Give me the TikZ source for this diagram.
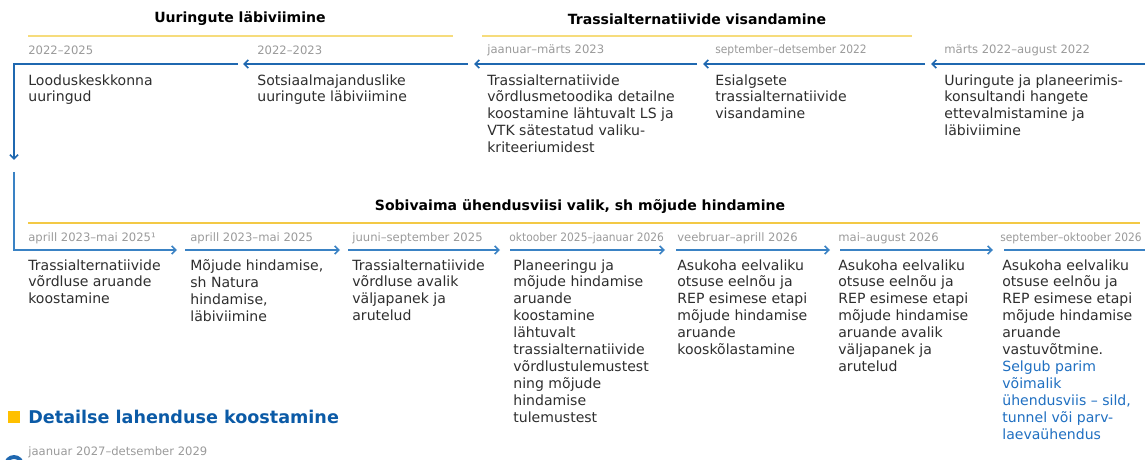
\documentclass[tikz,border=0pt]{standalone}
\usepackage{fontspec}
\setmainfont{DejaVu Sans}
\newfontfamily\narrowfont[FakeStretch=0.92]{DejaVu Sans}
\usetikzlibrary{arrows.meta}

\definecolor{lineblue}{HTML}{1F68B0}
\definecolor{lightlineblue}{HTML}{3A82C4}
\definecolor{headblue}{HTML}{0B5AA6}
\definecolor{noteblue}{HTML}{1F6FC1}
\definecolor{bandyellow}{HTML}{F6DC7C}
\definecolor{deepyellow}{HTML}{F3C945}
\definecolor{markyellow}{HTML}{FFC000}
\definecolor{dategray}{HTML}{9A9A9A}
\definecolor{bodygray}{HTML}{2E2E2E}

\tikzset{
  flow/.style={line width=0.85pt, lineblue,
    -{Straight Barb[length=2.4pt, width=4.6pt, line width=0.9pt]}},
  lightflow/.style={flow, lightlineblue},
  plainflow/.style={line width=0.85pt, lightlineblue},
  band/.style={line width=1.1pt, bandyellow},
  phase/.style={font=\fontsize{8}{9.6}\selectfont\bfseries, text=black},
  when/.style={anchor=west, inner sep=0pt,
    font=\fontsize{6.6}{8}\selectfont, text=dategray},
  whennarrow/.style={when, font=\fontsize{6.6}{8}\selectfont\narrowfont},
  task/.style={anchor=north west, inner sep=0pt, align=left,
    font=\fontsize{8}{9.64}\selectfont, text=bodygray},
}

\begin{document}
\begin{tikzpicture}
\useasboundingbox (0,0) rectangle (22.9,9.18);

% ── Ülemine rida: faaside pealkirjad ──────────────────────────
\node[phase] (phUur) at (4.80, 8.80) {Uuringute läbiviimine};
\node[phase] (phVis) at (13.94, 8.80) {Trassialternatiivide visandamine};
\draw[band] (0.56, 8.46) -- (9.06, 8.46);
\draw[band] (9.64, 8.46) -- (18.24, 8.46);

% ── Ülemine rida: ajad ────────────────────────────────────────
\node[when] (d11) at (0.56, 8.18) {2022–2025};
\node[when] (d12) at (5.14, 8.18) {2022–2023};
\node[when] (d13) at (9.74, 8.18) {jaanuar–märts 2023};
\node[whennarrow] (d14) at (14.30, 8.18) {september–detsember 2022};
\node[when] (d15) at (18.88, 8.18) {märts 2022–august 2022};

% ── Ülemine rida: tegevused ───────────────────────────────────
\node[task] (t11) at (0.56, 7.70) {Looduskeskkonna\\uuringud};
\node[task] (t12) at (5.14, 7.70) {Sotsiaalmajanduslike\\uuringute läbiviimine};
\node[task] (t13) at (9.74, 7.70)
    {Trassialternatiivide\\võrdlusmetoodika detailne\\koostamine lähtuvalt LS ja\\VTK sätestatud valiku-\\kriteeriumidest};
\node[task] (t14) at (14.30, 7.70)
    {Esialgsete\\trassialternatiivide\\visandamine};
\node[task] (t15) at (18.88, 7.70)
    {Uuringute ja planeerimis-\\konsultandi hangete\\ettevalmistamine ja\\läbiviimine};

% ── Ülemine rida: ajatelg (paremalt vasakule) ─────────────────
\foreach \n/\xs/\xe in {1/22.90/18.62, 2/18.50/14.06, 3/13.94/9.48, 4/9.36/4.86}{
  \coordinate (ua\n) at (\xs, 7.90);
  \coordinate (ub\n) at (\xe, 7.90);
  \draw[flow] (ua\n) -- (ub\n);
}
\coordinate (ua5) at (4.76, 7.90);
\coordinate (ucorner) at (0.28, 7.90);
\coordinate (udown) at (0.28, 5.98);
\draw[flow] (ua5) -- (ucorner) -- (udown);

% ── Alumine rida: faasi pealkiri ──────────────────────────────
\node[phase] (phVal) at (11.60, 5.04)
    {Sobivaima ühendusviisi valik, sh mõjude hindamine};
\draw[band, deepyellow] (0.56, 4.72) -- (22.80, 4.72);

% ── Alumine rida: ajad ────────────────────────────────────────
\node[when] (d21) at (0.56, 4.42) {aprill 2023–mai 2025¹};
\node[when] (d22) at (3.80, 4.42) {aprill 2023–mai 2025};
\node[when] (d23) at (7.04, 4.42) {juuni–september 2025};
\node[whennarrow] (d24) at (10.18, 4.42) {oktoober 2025–jaanuar 2026};
\node[when] (d25) at (13.54, 4.42) {veebruar–aprill 2026};
\node[when] (d26) at (16.76, 4.42) {mai–august 2026};
\node[whennarrow] (d27) at (20.00, 4.42) {september–oktoober 2026};

% ── Alumine rida: tegevused ───────────────────────────────────
\node[task] (t21) at (0.56, 4.00)
    {Trassialternatiivide\\võrdluse aruande\\koostamine};
\node[task] (t22) at (3.80, 4.00)
    {Mõjude hindamise,\\sh Natura\\hindamise,\\läbiviimine};
\node[task] (t23) at (7.04, 4.00)
    {Trassialternatiivide\\võrdluse avalik\\väljapanek ja\\arutelud};
\node[task] (t24) at (10.26, 4.00)
    {Planeeringu ja\\mõjude hindamise\\aruande\\koostamine\\lähtuvalt\\trassialternatiivide\\võrdlustulemustest\\ning mõjude\\hindamise\\tulemustest};
\node[task] (t25) at (13.54, 4.00)
    {Asukoha eelvaliku\\otsuse eelnõu ja\\REP esimese etapi\\mõjude hindamise\\aruande\\kooskõlastamine};
\node[task] (t26) at (16.76, 4.00)
    {Asukoha eelvaliku\\otsuse eelnõu ja\\REP esimese etapi\\mõjude hindamise\\aruande avalik\\väljapanek ja\\arutelud};
\node[task] (t27) at (20.04, 4.00)
    {Asukoha eelvaliku\\otsuse eelnõu ja\\REP esimese etapi\\mõjude hindamise\\aruande\\vastuvõtmine.\\
     \textcolor{noteblue}{Selgub parim}\\\textcolor{noteblue}{võimalik}\\
     \textcolor{noteblue}{ühendusviis – sild,}\\\textcolor{noteblue}{tunnel või parv-}\\
     \textcolor{noteblue}{laevaühendus}};

% ── Alumine rida: ajatelg (vasakult paremale) ─────────────────
\coordinate (lup) at (0.28, 5.74);
\coordinate (lcorner) at (0.28, 4.18);
\coordinate (lb1) at (3.54, 4.18);
\draw[lightflow] (lup) -- (lcorner) -- (lb1);
\foreach \n/\xs/\xe in {2/3.70/6.80, 3/6.96/10.00, 4/10.20/13.30,
                        5/13.52/16.60, 6/16.80/19.86}{
  \coordinate (la\n) at (\xs, 4.18);
  \coordinate (lb\n) at (\xe, 4.18);
  \draw[lightflow] (la\n) -- (lb\n);
}
\coordinate (la7) at (20.08, 4.18);
\coordinate (lend) at (22.90, 4.18);
\draw[plainflow] (la7) -- (lend);

% ── Järgmine faas ─────────────────────────────────────────────
\fill[markyellow] (0.16, 0.72) rectangle (0.40, 0.96);
\node[anchor=west, inner sep=0pt, text=headblue,
      font=\fontsize{10}{12}\selectfont\bfseries] (phDet) at (0.56, 0.84)
    {Detailse lahenduse koostamine};
\node[when] (d31) at (0.56, 0.14) {jaanuar 2027–detsember 2029};
\draw[lineblue, line width=2.2pt] (0.28, -0.12) circle (0.16);

\end{tikzpicture}
\end{document}
